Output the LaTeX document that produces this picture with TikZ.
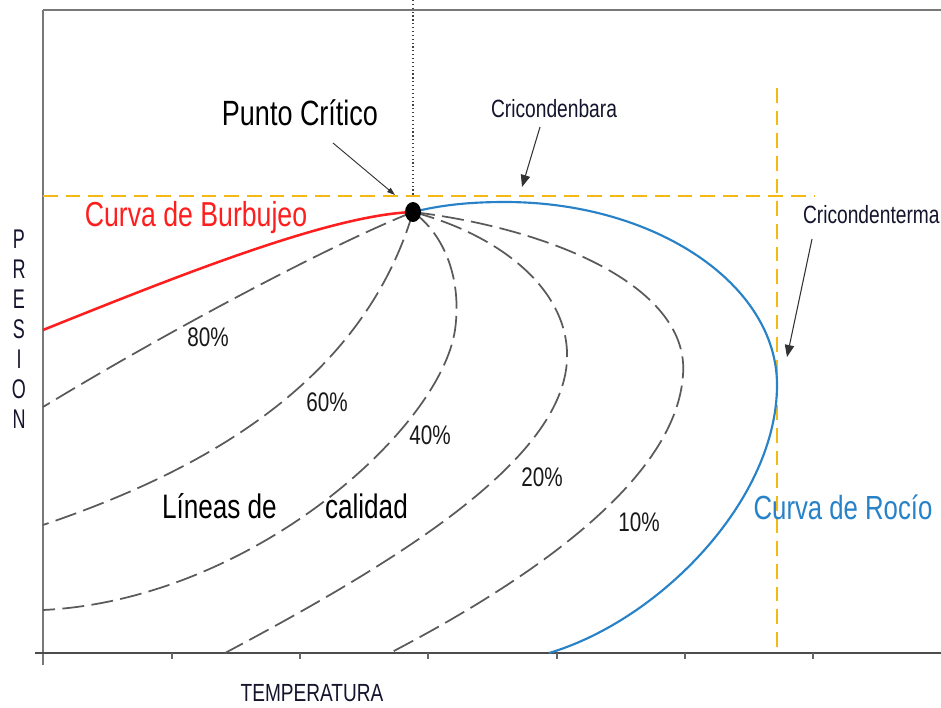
\documentclass[tikz,border=0pt]{standalone}
\usepackage{fontspec}
\setmainfont{Liberation Sans}
\usetikzlibrary{arrows.meta,shapes.geometric}
\definecolor{qgray}{RGB}{90,90,90}
\definecolor{ygold}{RGB}{245,185,20}
\definecolor{dewblue}{RGB}{40,130,200}
\definecolor{bubred}{RGB}{255,30,30}
\definecolor{axgray}{RGB}{120,120,120}
\definecolor{navyk}{RGB}{20,20,45}
\newcommand\vt[1]{\scalebox{1}[1.3]{#1}}
\newcommand\vtt[1]{\scalebox{1}[1.5]{#1}}
\tikzset{
  quality/.style={draw=qgray, line width=1.3pt, dash pattern=on 16.5pt off 5.5pt},
  yguide/.style={draw=ygold, line width=1.1pt, dash pattern=on 11pt off 6pt},
  lbl/.style={inner sep=0pt, outer sep=0pt},
  pct/.style={lbl, font=\fontsize{15.5}{18}\selectfont, text=black!90},
  pointer/.style={draw=black!80, line width=0.8pt, -{Triangle[length=9pt,width=7pt]}},
}
\begin{document}
\begin{tikzpicture}[x=0.75pt,y=-0.75pt]
\useasboundingbox (0,0) rectangle (941,707);
\fill[white] (0,0) rectangle (941,707);

% frame and axes
\draw[axgray, line width=1.5pt] (43,10) -- (941,10);
\draw[axgray, line width=1.5pt] (43,10) -- (43,665);
\draw[black!70, line width=1.8pt] (35,653) -- (941,653);
\foreach \x in {172,300,428,557,685,813}
  \draw[black!60, line width=0.8pt] (\x,653) -- (\x,659);

% guide lines
\draw[black!75, line width=0.9pt, dotted] (413,0) -- (413,196);
\draw[yguide] (43,196) -- (815,196);
\draw[yguide] (777,88) -- (777,653);

\coordinate (c) at (413,212);

% quality lines
\draw[quality] (c) .. controls (330,245) and (170,330) .. (43,407);
\draw[quality] (c) .. controls (360,390) and (190,475) .. (43,525);
\draw[quality] (c) .. controls (445,235) and (462,280) .. (455,330)
                   .. controls (440,430) and (250,600) .. (43,610);
\draw[quality] (c) .. controls (500,235) and (570,290) .. (567,360)
                   .. controls (562,460) and (400,560) .. (225,653);
\draw[quality] (c) .. controls (560,230) and (690,290) .. (683,375)
                   .. controls (676,480) and (530,580) .. (390,653);

% bubble curve
\draw[bubred, line width=1.9pt] (43,330) .. controls (180,275) and (330,215) .. (c);
% dew curve
\draw[dewblue, line width=1.6pt] (c) .. controls (445,204) and (475,202) .. (505,202)
   .. controls (655,202) and (777,284) .. (777,385)
   .. controls (777,500) and (660,620) .. (549,653);

% critical point
\node[fill=black, ellipse, inner sep=0pt, minimum width=12pt, minimum height=15pt] (cp) at (c) {};

% labels
\node[lbl, font=\fontsize{20.25}{24}\selectfont] (pclbl) at (300,113) {\vt{Punto Crítico}};
\node[lbl, font=\fontsize{14.4}{17}\selectfont, text=navyk] (cbar) at (554,109) {\vt{Cricondenbara}};
\node[lbl, font=\fontsize{14.4}{17}\selectfont, text=navyk, anchor=west] (cterm) at (803,215) {\vt{Cricondenterma}};
\node[lbl, font=\fontsize{20}{24}\selectfont, text=bubred] (bub) at (196,218) {\vt{Curva de Burbujeo}};
\node[lbl, font=\fontsize{19.3}{22}\selectfont, text=dewblue] (dew) at (843,507) {\vt{Curva de Rocío}};
\node[lbl, font=\fontsize{19.6}{23}\selectfont, anchor=west] (lin1) at (162,506) {\vt{Líneas de}};
\node[lbl, font=\fontsize{19.6}{23}\selectfont, anchor=west] (lin2) at (325,506) {\vt{calidad}};
\node[pct] (p80) at (208,337) {\vt{80\%}};
\node[pct] (p60) at (327,402) {\vt{60\%}};
\node[pct] (p40) at (430,435) {\vt{40\%}};
\node[pct] (p20) at (542,477) {\vt{20\%}};
\node[pct] (p10) at (639,522) {\vt{10\%}};
\node[lbl, font=\fontsize{14.3}{17}\selectfont, text=navyk] (temp) at (312,693) {\vt{TEMPERATURA}};
\foreach \L [count=\i from 0] in {P,R,E,S,I,O,N}
  \node[lbl, font=\fontsize{13.5}{16}\selectfont, text=navyk] (pres\i) at (19,{239+30*\i}) {\vtt{\L}};

% pointers
\coordinate (a1s) at (333,143);
\coordinate (a1e) at (395,195);
\coordinate (a2s) at (540,127);
\coordinate (a2e) at (522,187);
\coordinate (a3s) at (812,239);
\coordinate (a3e) at (787,357);
\draw[draw=black!80, line width=0.7pt, -{Triangle[length=6pt,width=4pt]}] (a1s) -- (a1e);
\draw[pointer] (a2s) -- (a2e);
\draw[pointer] (a3s) -- (a3e);
\end{tikzpicture}
\end{document}
